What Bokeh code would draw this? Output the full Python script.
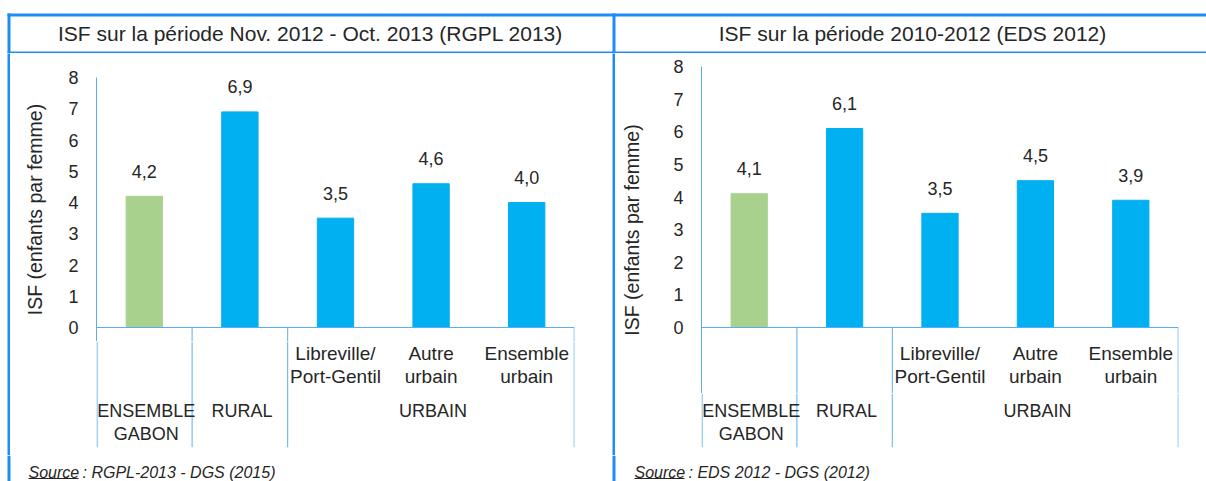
from bokeh.plotting import figure
from bokeh.models import (FactorRange, Range1d, FixedTicker, Span, ColumnDataSource, Spacer)
from bokeh.transform import dodge
from bokeh.layouts import row, column
from bokeh.embed import file_html
from bokeh.resources import INLINE
from bokeh.core.properties import value

# ---------------- data ----------------
categories = ["ENSEMBLE GABON", "RURAL", "Libreville/Port-Gentil", "Autre urbain", "Ensemble urbain"]
sub_labels = ["", "", "Libreville/\nPort-Gentil", "Autre\nurbain", "Ensemble\nurbain"]
group_labels = ["ENSEMBLE\nGABON", "RURAL", "", "URBAIN", ""]
isf_rgpl_2013 = [4.2, 6.9, 3.5, 4.6, 4.0]
isf_eds_2012 = [4.1, 6.1, 3.5, 4.5, 3.9]
bar_colors = ["#A9D18E", "#00B0F0", "#00B0F0", "#00B0F0", "#00B0F0"]
titles = ["ISF sur la période Nov. 2012 - Oct. 2013 (RGPL 2013)",
          "ISF sur la période 2010-2012 (EDS 2012)"]
source_word = "Source"
sources = [": RGPL-2013 - DGS (2015)", ": EDS 2012 - DGS (2012)"]
y_ticks = [0, 1, 2, 3, 4, 5, 6, 7, 8]
y_axis_label = "ISF (enfants par femme)"

FONT = "Liberation Sans"
TXT = "#262626"
BORDER = "#1E8CF5"
LINE = "#5AADF2"

PAGE_W = 1206
TOP_H = 53      # title band height (page y 0..53)
BODY_END = 455  # page y where the chart ends
SRC_H = 26      # source band (page y 455..481)
LEFT_LINE = 7   # x of left border
MID_LINE = 612  # x of divider between panels


def blank(width, height, bg="white"):
    p = figure(width=width, height=height, output_backend="svg", toolbar_location=None,
               x_range=Range1d(0, width), y_range=Range1d(0, height),
               x_axis_location=None, y_axis_location=None, min_border=0)
    p.min_border_left = p.min_border_right = p.min_border_top = p.min_border_bottom = 0
    p.outline_line_color = None
    p.grid.visible = False
    p.background_fill_color = bg
    p.border_fill_color = bg
    return p


def title_band():
    p = blank(PAGE_W, TOP_H)
    p.quad(left=LEFT_LINE, right=PAGE_W, top=TOP_H - 13, bottom=TOP_H - 16,
           fill_color=BORDER, line_color=None)
    p.quad(left=LEFT_LINE, right=PAGE_W, top=2, bottom=0, fill_color=BORDER, line_color=None)
    p.quad(left=[LEFT_LINE, MID_LINE], right=[LEFT_LINE + 3, MID_LINE + 3],
           top=TOP_H - 13, bottom=0, fill_color=BORDER, line_color=None)
    p.text(x=[310, 912], y=[TOP_H - 33, TOP_H - 33], text=titles, text_align="center",
           text_baseline="middle", text_font=value(FONT), text_font_size="21px",
           text_color=TXT)
    return p


def source_band():
    p = blank(PAGE_W, SRC_H)
    p.quad(left=[LEFT_LINE, MID_LINE], right=[LEFT_LINE + 3, MID_LINE + 3],
           top=SRC_H, bottom=0, fill_color=BORDER, line_color=None)
    xs = [28, 634]
    p.text(x=xs, y=[SRC_H - 17] * 2, text=[source_word] * 2, text_align="left",
           text_baseline="middle", text_font=value(FONT), text_font_size="16px",
           text_font_style="italic", text_color=TXT)
    p.segment(x0=xs, x1=[x + 50 for x in xs], y0=[SRC_H - 23] * 2, y1=[SRC_H - 23] * 2,
              line_color=TXT, line_width=1)
    p.text(x=[x + 54 for x in xs], y=[SRC_H - 17] * 2, text=sources, text_align="left",
           text_baseline="middle", text_font=value(FONT), text_font_size="16px",
           text_font_style="italic", text_color=TXT)
    return p


def style_plain(p):
    p.outline_line_color = None
    p.grid.visible = False
    p.background_fill_color = "white"
    p.border_fill_color = "white"


def chart(values, fig_x0, width, frame_left, frame_right, top8, zero, lab_standoff, split):
    frame_bottom = 447
    scale = (zero - top8) / 8.0
    y_start = -(frame_bottom - zero) / scale

    def yv(px):
        return (zero - px) / scale

    y_split = yv(split)
    xr = FactorRange(*categories)
    src = ColumnDataSource(dict(cat=categories, val=values, color=bar_colors,
                                lab=[("%.1f" % v).replace(".", ",") for v in values],
                                sub=sub_labels, grp=group_labels))
    div_src = ColumnDataSource(dict(cat=["RURAL", "Libreville/Port-Gentil"]))
    end_src = ColumnDataSource(dict(cat=["Ensemble urbain"]))

    # ---- upper part: bars and the value axis ----
    p = figure(width=width, height=split - TOP_H, output_backend="svg", toolbar_location=None,
               x_range=xr, y_range=Range1d(y_split, 8), x_axis_location=None)
    p.min_border_left = frame_left - fig_x0
    p.min_border_right = fig_x0 + width - frame_right
    p.min_border_top = top8 - TOP_H
    p.min_border_bottom = 0
    style_plain(p)

    ya = p.yaxis[0]
    ya.ticker = FixedTicker(ticks=y_ticks)
    ya.axis_line_color = LINE
    ya.axis_line_width = 1
    ya.major_tick_line_color = None
    ya.minor_tick_line_color = None
    ya.major_label_text_font = FONT
    ya.major_label_text_font_size = "18px"
    ya.major_label_text_color = TXT
    ya.major_label_standoff = 12
    ya.axis_label = y_axis_label
    ya.axis_label_text_font = FONT
    ya.axis_label_text_font_size = "19.5px"
    ya.axis_label_text_font_style = "normal"
    ya.axis_label_text_color = TXT
    ya.axis_label_standoff = lab_standoff

    p.vbar(x="cat", top="val", width=0.38, color="color", source=src)
    p.text(x="cat", y="val", text="lab", source=src, text_align="center",
           text_baseline="alphabetic", y_offset=-25, text_font=value(FONT),
           text_font_size="18px", text_color=TXT)
    p.add_layout(Span(location=0, dimension="width", line_color=LINE, line_width=1))
    p.segment(x0=dodge("cat", -0.5, range=xr), x1=dodge("cat", -0.5, range=xr),
              y0=0, y1=y_split, source=div_src, line_color=LINE, line_width=1)
    p.segment(x0=dodge("cat", 0.497, range=xr), x1=dodge("cat", 0.497, range=xr),
              y0=0, y1=y_split, source=end_src, line_color=LINE, line_width=1)

    # ---- lower part: two-level category labels ----
    q = figure(width=width, height=BODY_END - split, output_backend="svg",
               toolbar_location=None, x_range=xr, y_range=Range1d(y_start, y_split),
               x_axis_location=None, y_axis_location=None)
    q.min_border_left = frame_left - fig_x0
    q.min_border_right = fig_x0 + width - frame_right
    q.min_border_top = 0
    q.min_border_bottom = BODY_END - frame_bottom
    style_plain(q)
    first_src = ColumnDataSource(dict(cat=["ENSEMBLE GABON"]))
    q.segment(x0=dodge("cat", -0.494, range=xr), x1=dodge("cat", -0.494, range=xr),
              y0=y_split, y1=y_start, source=first_src, line_color=LINE, line_width=1)
    q.segment(x0=dodge("cat", -0.5, range=xr), x1=dodge("cat", -0.5, range=xr),
              y0=y_split, y1=y_start, source=div_src, line_color=LINE, line_width=1)
    q.segment(x0=dodge("cat", 0.497, range=xr), x1=dodge("cat", 0.497, range=xr),
              y0=y_split, y1=y_start, source=end_src, line_color=LINE, line_width=1)

    # inner level labels go in whichever part holds them entirely
    sub_fig = p if split > 390 else q
    sub_fig.text(x="cat", y=yv(342), text="sub", source=src, text_align="center",
                 text_baseline="top", text_font=value(FONT), text_font_size="19px",
                 text_color=TXT, text_line_height=1.1)
    q.text(x="cat", y=yv(400), text="grp", source=src, text_align="center",
           text_baseline="top", x_offset=2, text_font=value(FONT), text_font_size="18px",
           text_color=TXT, text_line_height=1.15)
    return column(p, q, spacing=0)


def vline(height):
    return blank(3, height, bg=BORDER)


C1 = chart(isf_rgpl_2013, 10, 602, 96, 574, 77, 327, 19, 341)
C2 = chart(isf_eds_2012, 615, 591, 701, 1178, 66, 327, 27, 393)

BODY_H = BODY_END - TOP_H
layout = column(
    title_band(),
    row(Spacer(width=7, height=BODY_H), vline(BODY_H), C1, vline(BODY_H), C2, spacing=0),
    source_band(),
    spacing=0)

open("out.html", "w").write(file_html(layout, INLINE))
